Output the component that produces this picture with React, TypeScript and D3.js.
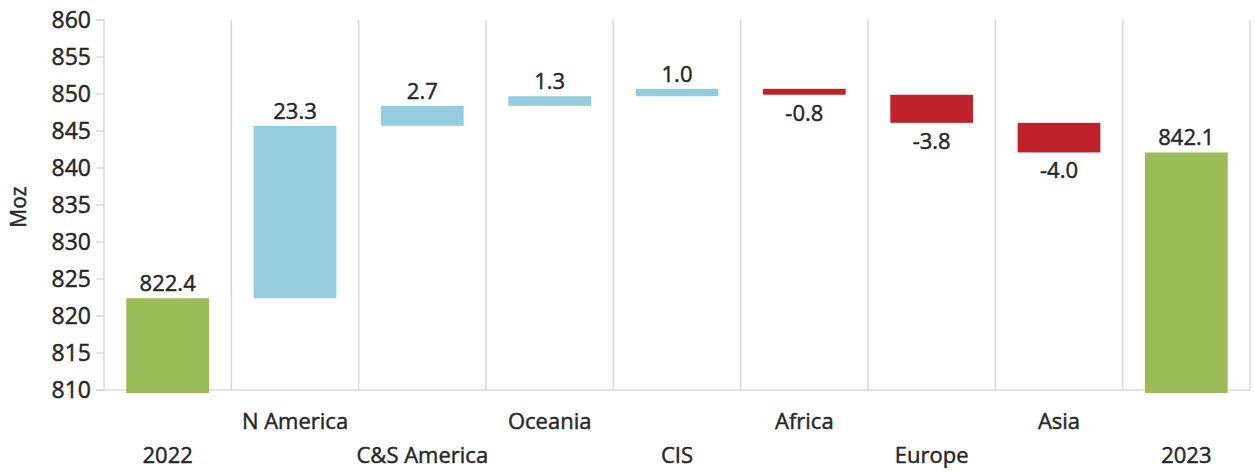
import React from "react";
import * as d3 from "d3";

// Gold mine supply waterfall, 2022 → 2023 (Moz)
const categories = ["2022", "N America", "C&S America", "Oceania", "CIS", "Africa", "Europe", "Asia", "2023"];
const deltas = [822.4, 23.3, 2.7, 1.3, 1.0, -0.8, -3.8, -4.0, 842.1];
const totals = [true, false, false, false, false, false, false, false, true];
const yTicks = [810, 815, 820, 825, 830, 835, 840, 845, 850, 855, 860];

const W = 1255;
const H = 472;
const margin = { left: 104, right: 5, top: 20, bottom: 82 };

const GREEN = "#9BBB59";
const BLUE = "#93CDDD";
const RED = "#C0222B";
const GRID = "#d9d9d9";
const TEXT = "#262626";
const FONT = "'Open Sans', sans-serif";

type Step = { cat: string; value: number; y0: number; y1: number; total: boolean };

function buildSteps(): Step[] {
  const out: Step[] = [];
  let running = 0;
  categories.forEach((cat, i) => {
    if (totals[i]) {
      running = deltas[i];
      out.push({ cat, value: deltas[i], y0: 810, y1: deltas[i], total: true });
    } else {
      const start = running;
      running = +(running + deltas[i]).toFixed(1);
      out.push({ cat, value: deltas[i], y0: start, y1: running, total: false });
    }
  });
  return out;
}

// shared text styling: slightly heavier strokes for the labels
const textProps = {
  fontFamily: FONT,
  fill: TEXT,
  stroke: TEXT,
  strokeWidth: 0.45,
};

export default function App() {
  const steps = buildSteps();
  const x = d3
    .scaleBand<string>()
    .domain(categories)
    .range([margin.left, W - margin.right])
    .paddingInner(0)
    .paddingOuter(0);
  const y = d3
    .scaleLinear()
    .domain([810, 860])
    .range([H - margin.bottom, margin.top]);

  const barW = x.bandwidth() * 0.65;
  const bottom = y(810);

  return (
    <div style={{ position: "fixed", left: 0, top: 0 }}>
      <svg width={W} height={H} style={{ display: "block", background: "#fff" }}>
        {/* category separators */}
        {categories.map((c) => (
          <line
            key={"sep" + c}
            x1={(x(c) as number) + x.bandwidth()}
            x2={(x(c) as number) + x.bandwidth()}
            y1={margin.top}
            y2={bottom}
            stroke={GRID}
            strokeWidth={1.5}
          />
        ))}
        {/* y axis */}
        <line x1={margin.left} x2={margin.left} y1={margin.top} y2={bottom} stroke={GRID} strokeWidth={1.5} />
        {yTicks.map((t) => (
          <g key={"t" + t}>
            <line x1={margin.left - 8} x2={margin.left} y1={y(t)} y2={y(t)} stroke={GRID} strokeWidth={1.5} />
            <text x={margin.left - 13} y={y(t)} dy="0.36em" textAnchor="end" fontSize={23} {...textProps}>
              {t}
            </text>
          </g>
        ))}
        <line x1={margin.left - 8} x2={W - margin.right} y1={bottom} y2={bottom} stroke={GRID} strokeWidth={1.5} />
        <text
          transform={`translate(26,${(margin.top + bottom) / 2 + 2}) rotate(-90)`}
          textAnchor="middle"
          fontSize={21}
          {...textProps}
        >
          Moz
        </text>

        {/* bars */}
        {steps.map((s) => {
          const cx = (x(s.cat) as number) + x.bandwidth() / 2;
          const top = y(Math.max(s.y0, s.y1));
          const bot = s.total ? bottom + 3 : y(Math.min(s.y0, s.y1));
          const fill = s.total ? GREEN : s.value >= 0 ? BLUE : RED;
          const label = s.value.toFixed(1);
          const labelY = s.value >= 0 ? top - 7 : bot + 26;
          return (
            <g key={"b" + s.cat}>
              <rect x={cx - barW / 2} y={top} width={barW} height={Math.max(bot - top, 1)} fill={fill} />
              <text x={cx} y={labelY} textAnchor="middle" fontSize={22} {...textProps}>
                {label}
              </text>
            </g>
          );
        })}

        {/* staggered category labels */}
        {categories.map((c, i) => (
          <text
            key={"l" + c}
            x={(x(c) as number) + x.bandwidth() / 2}
            y={i % 2 === 1 ? 429 : 463}
            textAnchor="middle"
            fontSize={22}
            {...textProps}
          >
            {c}
          </text>
        ))}
      </svg>
    </div>
  );
}
